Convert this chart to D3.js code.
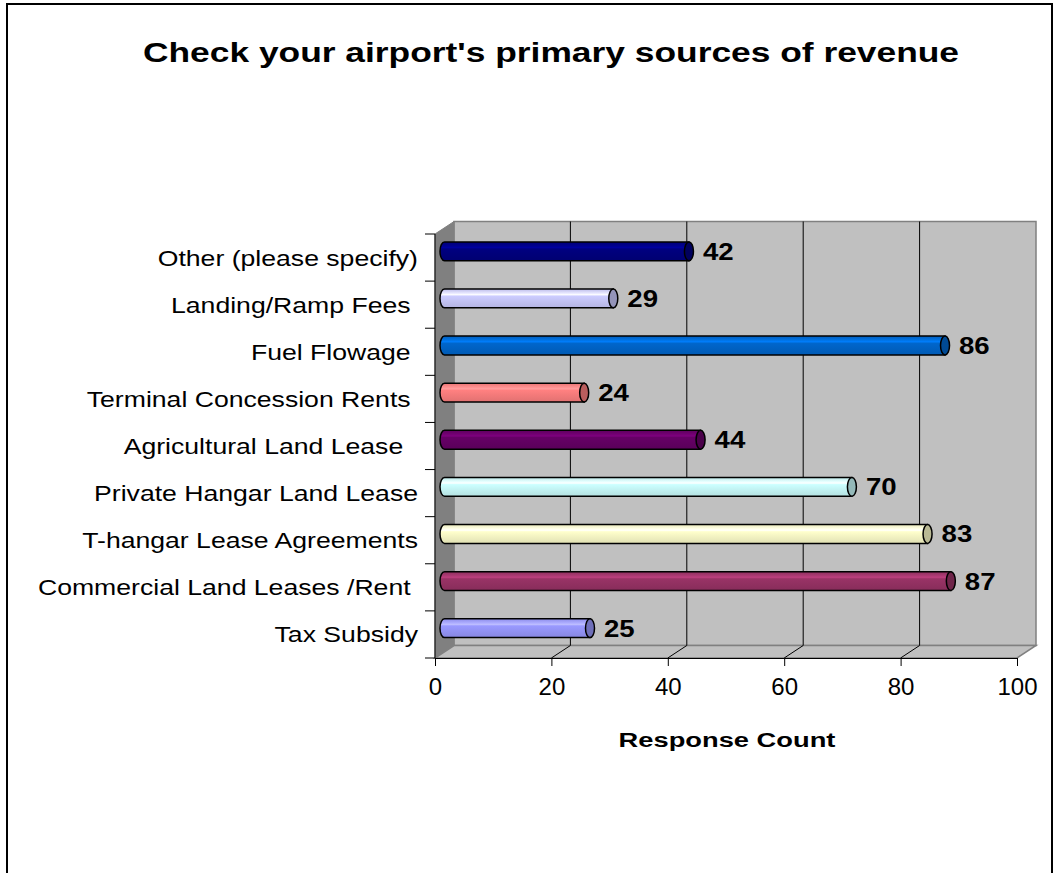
<!DOCTYPE html>
<html>
<head>
<meta charset="utf-8">
<script src="https://cdn.jsdelivr.net/npm/d3@7"></script>
<style>
  html, body { margin: 0; padding: 0; background: #fff; }
  svg { display: block; }
  text { font-family: "Liberation Sans", Arial, sans-serif; white-space: pre; }
</style>
</head>
<body>
<svg id="chart" width="1055" height="873"></svg>
<script>
// Survey question and axis text
const chartTitle = "Check your airport's primary sources of revenue";
const axisTitle = "Response Count";

// Answer options, top to bottom as listed on the chart
const categories = [
  "Other (please specify)",
  "Landing/Ramp Fees ",
  "Fuel Flowage ",
  "Terminal Concession Rents ",
  "Agricultural Land Lease  ",
  "Private Hangar Land Lease",
  "T-hangar Lease Agreements",
  "Commercial Land Leases /Rent ",
  "Tax Subsidy"
];

// Response counts per option
const responseCounts = [42, 29, 86, 24, 44, 70, 83, 87, 25];

// Fill colour per option
const barColors = [
  "#000080", "#ccccff", "#0066cc", "#ff8080", "#660066",
  "#ccffff", "#ffffcc", "#993366", "#9999ff"
];

// Value axis ticks
const xTicks = [0, 20, 40, 60, 80, 100];

const svg = d3.select("#chart");

// Front plane of the 3-D plot box
const plot = { left: 435, right: 1017, top: 234, bottom: 658 };
// Oblique depth offset of the back wall
const depth = { dx: 19, dy: -12.5 };

const x = d3.scaleLinear().domain([0, 100]).range([plot.left, plot.right]);
const y = d3.scaleBand().domain(categories).range([plot.top, plot.bottom]).padding(0);

const fontStack = '"Liberation Sans", Arial, sans-serif';

// Text drawn with a wide (horizontally stretched) face
function wideText(sel, px, py, sx) {
  return sel.append("text")
    .attr("transform", `translate(${px},${py}) scale(${sx},1)`)
    .attr("x", 0).attr("y", 0);
}

// Outer chart frame
svg.append("rect")
  .attr("x", 7).attr("y", 4)
  .attr("width", 1045).attr("height", 900)
  .attr("fill", "#fff").attr("stroke", "#000").attr("stroke-width", 2);

// Title
wideText(svg, 551, 62, 1.31)
  .attr("text-anchor", "middle")
  .attr("font-size", 27).attr("font-weight", "bold")
  .text(chartTitle);

const bx = v => x(v) + depth.dx;        // back-wall x
const by = (yy) => yy + depth.dy;       // back-wall y
const pts = arr => arr.map(p => p.join(",")).join(" ");

// Back wall
svg.append("polygon")
  .attr("points", pts([
    [bx(0), by(plot.top)], [bx(100), by(plot.top)],
    [bx(100), by(plot.bottom)], [bx(0), by(plot.bottom)]
  ]))
  .attr("fill", "#c0c0c0").attr("stroke", "#808080").attr("stroke-width", 1.5);

// Side wall
svg.append("polygon")
  .attr("points", pts([
    [x(0), plot.top], [bx(0), by(plot.top)],
    [bx(0), by(plot.bottom)], [x(0), plot.bottom]
  ]))
  .attr("fill", "#808080").attr("stroke", "#808080").attr("stroke-width", 1);

// Floor
svg.append("polygon")
  .attr("points", pts([
    [x(0), plot.bottom], [x(100), plot.bottom],
    [bx(100), by(plot.bottom)], [bx(0), by(plot.bottom)]
  ]))
  .attr("fill", "#c0c0c0").attr("stroke", "#808080").attr("stroke-width", 1.5);

// Gridlines on back wall and floor
const gridVals = xTicks.filter(v => v > 0 && v < 100);
svg.append("g").selectAll("line").data(gridVals).join("line")
  .attr("x1", d => bx(d)).attr("x2", d => bx(d))
  .attr("y1", by(plot.top)).attr("y2", by(plot.bottom))
  .attr("stroke", "#000").attr("stroke-width", 1);
svg.append("g").selectAll("line").data(gridVals).join("line")
  .attr("x1", d => bx(d)).attr("x2", d => x(d))
  .attr("y1", by(plot.bottom)).attr("y2", plot.bottom)
  .attr("stroke", "#000").attr("stroke-width", 1);

// Gradients for cylinder shading
const defs = svg.append("defs");
barColors.forEach((c, i) => {
  const base = d3.color(c);
  const g = defs.append("linearGradient")
    .attr("id", "cyl" + i).attr("x1", 0).attr("y1", 0).attr("x2", 0).attr("y2", 1);
  g.append("stop").attr("offset", "0%").attr("stop-color", base.darker(0.25));
  g.append("stop").attr("offset", "22%").attr("stop-color", base.brighter(0.35));
  g.append("stop").attr("offset", "30%").attr("stop-color", base.brighter(0.6));
  g.append("stop").attr("offset", "38%").attr("stop-color", base);
  g.append("stop").attr("offset", "100%").attr("stop-color", base.darker(0.35));
});

// Bars as horizontal cylinders at mid depth
const mid = { dx: depth.dx / 2, dy: depth.dy / 2 };
const barH = y.bandwidth() * 0.4;
const capRx = 4.5;
const rows = categories.map((c, i) => ({ cat: c, v: responseCounts[i], i }));

const bars = svg.append("g").selectAll("g").data(rows).join("g");
bars.each(function (d) {
  const g = d3.select(this);
  const x0 = x(0) + mid.dx;
  const x1 = x(d.v) + mid.dx;
  const cy = y(d.cat) + y.bandwidth() / 2 + mid.dy;
  const t = cy - barH / 2, b = cy + barH / 2, r = barH / 2;
  // body: left half-ellipse, straight sides, right end closed by cap
  const body = `M${x1},${t} L${x0},${t} A${capRx},${r} 0 0 0 ${x0},${b} L${x1},${b} Z`;
  g.append("path").attr("d", body)
    .attr("fill", `url(#cyl${d.i})`)
    .attr("stroke", "#000").attr("stroke-width", 1.5);
  g.append("ellipse")
    .attr("cx", x1).attr("cy", cy).attr("rx", capRx).attr("ry", r)
    .attr("fill", d3.color(barColors[d.i]).darker(0.9))
    .attr("stroke", "#000").attr("stroke-width", 1.5);
  // value label
  wideText(g, x1 + 14, cy + 8.5, 1.15)
    .attr("font-size", 24).attr("font-weight", "bold")
    .text(d.v);
});

// Category axis line and ticks
svg.append("line")
  .attr("x1", x(0)).attr("x2", x(0))
  .attr("y1", plot.top).attr("y2", plot.bottom)
  .attr("stroke", "#000").attr("stroke-width", 1);
const bounds = categories.map(c => y(c)).concat([plot.bottom]);
svg.append("g").selectAll("line").data(bounds).join("line")
  .attr("x1", x(0) - 10).attr("x2", x(0))
  .attr("y1", d => d).attr("y2", d => d)
  .attr("stroke", "#000").attr("stroke-width", 1);

// Category labels
const catG = svg.append("g");
categories.forEach(c => {
  wideText(catG, 418, y(c) + y.bandwidth() / 2 + 8, 1.21)
    .attr("text-anchor", "end")
    .attr("font-size", 22)
    .text(c);
});

// Value axis
const xAxis = svg.append("g")
  .attr("transform", `translate(0,${plot.bottom})`)
  .call(d3.axisBottom(x).tickValues(xTicks).tickSize(8).tickPadding(12).tickFormat(d3.format("d")));
xAxis.select(".domain").attr("stroke", "#000").attr("stroke-width", 1);
xAxis.selectAll(".tick line").attr("stroke", "#000");
xAxis.selectAll(".tick text")
  .attr("font-family", fontStack).attr("font-size", 24).attr("fill", "#000");

// Value axis title
wideText(svg, 727, 747, 1.3)
  .attr("text-anchor", "middle")
  .attr("font-size", 21).attr("font-weight", "bold")
  .text(axisTitle);
</script>
</body>
</html>
